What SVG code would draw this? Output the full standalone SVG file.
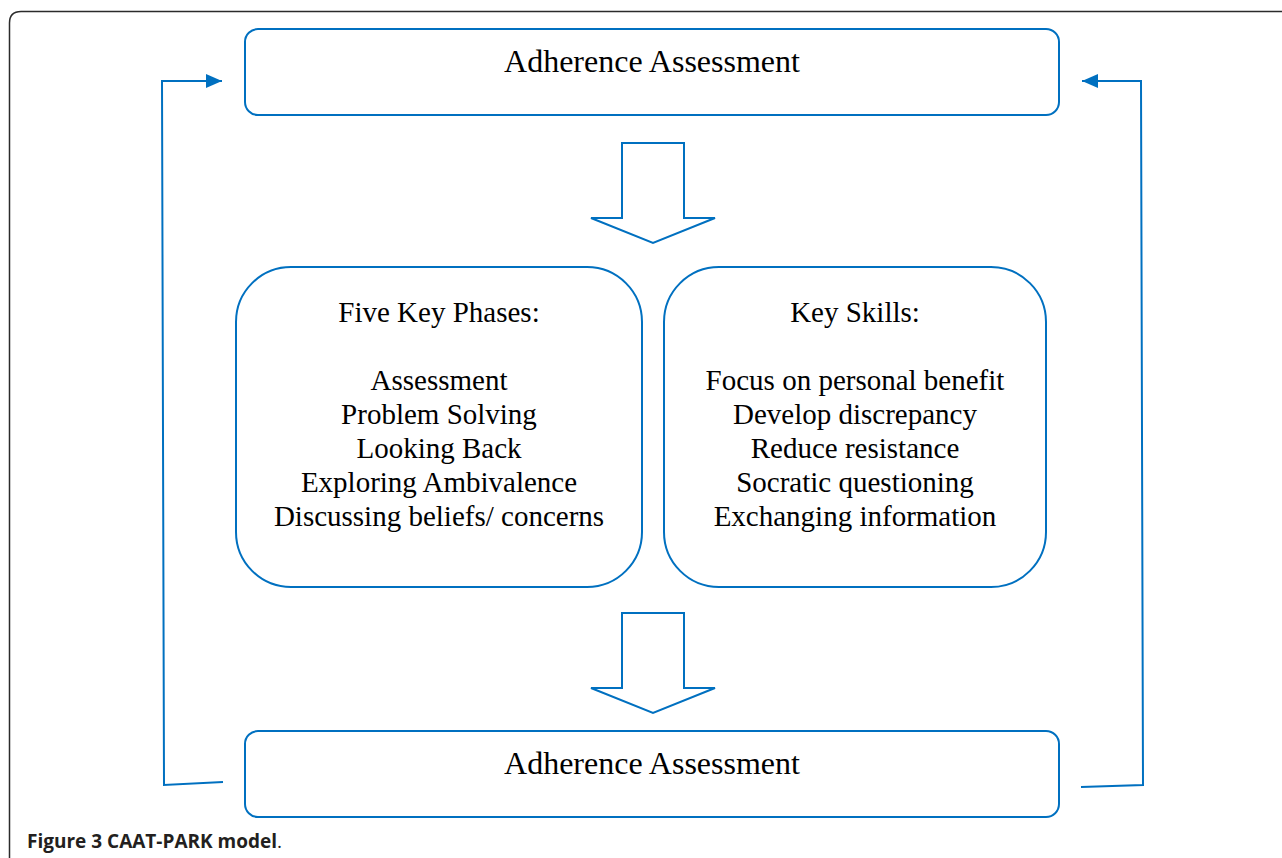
<svg xmlns="http://www.w3.org/2000/svg" width="1282" height="858" viewBox="0 0 1282 858">
<style>
.box{fill:#fff;stroke:#0070C0;stroke-width:2}
.arr{fill:#fff;stroke:#0070C0;stroke-width:2;stroke-linejoin:miter}
.conn{fill:none;stroke:#0070C0;stroke-width:2}
.t{font-family:"Liberation Serif","Times New Roman",serif;fill:#000;text-anchor:middle}
.h{font-size:32px}
.b{font-size:29px}
</style>
<defs>
<marker id="ah2" markerWidth="16" markerHeight="14" refX="16" refY="7" orient="auto" markerUnits="userSpaceOnUse">
<path d="M0,0 L16,7 L0,14 z" fill="#0070C0"/>
</marker>
</defs>
<rect width="1282" height="858" fill="#fff"/>
<path d="M9.5,870 V23 Q9.5,11.5 21,11.5 H1300" fill="none" stroke="#2b2b2b" stroke-width="1.5"/>
<g id="connectors">
<path class="conn" d="M223,782 L164,785 L162,81 L222,81" marker-end="url(#ah2)"/>
<path class="conn" d="M1081,787 L1143,785 L1141,81 L1082,81" marker-end="url(#ah2)"/>
<polygon class="arr" points="622,143 684,143 684,218 715,218 653,243 591,218 622,218"/>
<polygon class="arr" points="622,613 684,613 684,688 715,688 653,713 591,688 622,688"/>
</g>
<g id="top">
<rect class="box" x="245" y="29" width="814" height="86" rx="13"/>
<text class="t h" x="652" y="72">Adherence Assessment</text>
</g>
<g id="phases">
<rect class="box" x="236" y="267" width="406" height="320" rx="55"/>
<text class="t b" x="439" y="322">Five Key Phases:</text>
<text class="t b" x="439" y="390">Assessment</text>
<text class="t b" x="439" y="424">Problem Solving</text>
<text class="t b" x="439" y="458">Looking Back</text>
<text class="t b" x="439" y="492">Exploring Ambivalence</text>
<text class="t b" x="439" y="526">Discussing beliefs/ concerns</text>
</g>
<g id="skills">
<rect class="box" x="664" y="267" width="382" height="320" rx="55"/>
<text class="t b" x="855" y="322">Key Skills:</text>
<text class="t b" x="855" y="390">Focus on personal benefit</text>
<text class="t b" x="855" y="424">Develop discrepancy</text>
<text class="t b" x="855" y="458">Reduce resistance</text>
<text class="t b" x="855" y="492">Socratic questioning</text>
<text class="t b" x="855" y="526">Exchanging information</text>
</g>
<g id="bottom">
<rect class="box" x="245" y="731" width="814" height="86" rx="13"/>
<text class="t h" x="652" y="774">Adherence Assessment</text>
</g>
<text x="27" y="848" font-family="'Open Sans',sans-serif" font-size="19" fill="#231f20"><tspan font-weight="bold">Figure 3 CAAT-PARK model</tspan>.</text>
</svg>
